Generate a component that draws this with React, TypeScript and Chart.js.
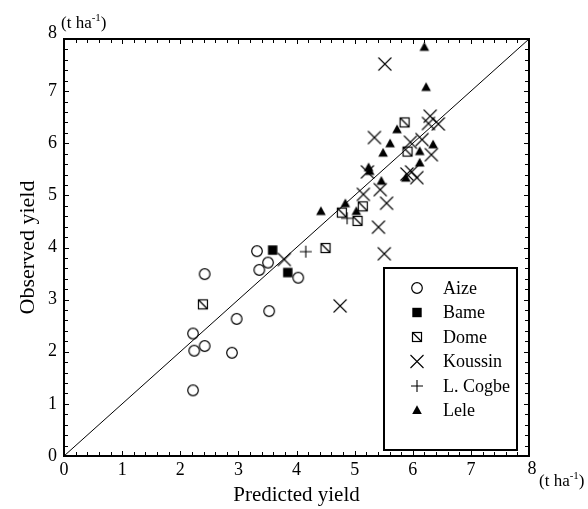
import React, { useEffect, useRef } from "react";
import { Chart, registerables } from "chart.js";

Chart.register(...registerables);

// ---------- data ----------
const seriesNames = ["Aize", "Bame", "Dome", "Koussin", "L. Cogbe", "Lele"];
const seriesKinds = ["circle", "square", "dome", "x", "plus", "triangle"];

const aizePred = [2.22, 2.24, 2.42, 2.22, 2.42, 2.89, 2.97, 3.53, 3.32, 3.36, 3.51, 4.03];
const aizeObs = [2.35, 2.02, 2.11, 1.26, 3.49, 1.98, 2.63, 2.78, 3.93, 3.57, 3.71, 3.42];

const bamePred = [3.59, 3.85];
const bameObs = [3.95, 3.52];

const domePred = [2.39, 4.5, 4.78, 5.05, 5.14, 5.86, 5.91];
const domeObs = [2.91, 3.99, 4.67, 4.51, 4.79, 6.4, 5.84];

const koussinPred = [3.79, 4.75, 5.41, 5.51, 5.55, 5.52, 5.15, 5.44, 5.22, 5.34, 5.9, 5.98, 6.07, 5.96, 6.16, 6.32, 6.27, 6.3, 6.44];
const koussinObs = [3.77, 2.88, 4.39, 3.88, 4.85, 7.52, 5.02, 5.11, 5.45, 6.11, 5.41, 5.45, 5.34, 6.02, 6.07, 5.78, 6.38, 6.52, 6.37];

const cogbePred = [4.16, 4.87];
const cogbeObs = [3.92, 4.56];

const lelePred = [4.42, 4.84, 5.03, 5.46, 5.24, 5.26, 5.49, 5.61, 5.73, 5.88, 6.12, 6.12, 6.35, 6.2, 6.23];
const leleObs = [4.69, 4.84, 4.69, 5.27, 5.53, 5.46, 5.81, 5.99, 6.26, 5.33, 5.84, 5.62, 5.97, 7.84, 7.07];

const identityLine = [0, 8];
const axisMin = 0;
const axisMax = 8;
const minorStep = 0.2;

const xTitle = "Predicted yield";
const yTitle = "Observed yield";
const unitText = "(t ha";
const unitSup = "-1";

const FAMILY = "'Liberation Serif'";

// ---------- symbols ----------
function drawSymbol(g: CanvasRenderingContext2D, kind: string, cx: number, cy: number) {
  g.save();
  g.strokeStyle = "#000";
  g.fillStyle = "#000";
  g.lineWidth = 1.2;
  if (kind === "circle") {
    g.beginPath();
    g.arc(cx, cy, 5.3, 0, Math.PI * 2);
    g.stroke();
  } else if (kind === "square") {
    g.fillRect(cx - 4.7, cy - 4.7, 9.4, 9.4);
  } else if (kind === "dome") {
    g.strokeRect(cx - 4.5, cy - 4.5, 9, 9);
    g.beginPath();
    g.moveTo(cx - 4.5, cy - 4.5);
    g.lineTo(cx + 4.5, cy + 4.5);
    g.stroke();
  } else if (kind === "x") {
    g.lineWidth = 1.1;
    g.beginPath();
    g.moveTo(cx - 6.5, cy - 6.5);
    g.lineTo(cx + 6.5, cy + 6.5);
    g.moveTo(cx + 6.5, cy - 6.5);
    g.lineTo(cx - 6.5, cy + 6.5);
    g.stroke();
  } else if (kind === "plus") {
    g.lineWidth = 1.1;
    g.beginPath();
    g.moveTo(cx - 6, cy);
    g.lineTo(cx + 6, cy);
    g.moveTo(cx, cy - 6);
    g.lineTo(cx, cy + 6);
    g.stroke();
  } else if (kind === "triangle") {
    g.beginPath();
    g.moveTo(cx, cy - 5.3);
    g.lineTo(cx + 4.8, cy + 3.4);
    g.lineTo(cx - 4.8, cy + 3.4);
    g.closePath();
    g.fill();
  }
  g.restore();
}

function makeSymbolCanvas(kind: string): HTMLCanvasElement {
  const c = document.createElement("canvas");
  c.width = 20;
  c.height = 20;
  const g = c.getContext("2d")!;
  drawSymbol(g, kind, 10, 10);
  return c;
}

function zipPoints(xs: number[], ys: number[]) {
  return xs.map((x, i) => ({ x, y: ys[i] }));
}

// ---------- decorations plugin ----------
const decorPlugin = {
  id: "decor",
  afterDraw(chart: any) {
    const { ctx, chartArea: a, scales } = chart;
    const xs = scales.x;
    const ys = scales.y;
    ctx.save();
    ctx.strokeStyle = "#000";
    ctx.fillStyle = "#000";

    // inward ticks on all four sides
    ctx.lineWidth = 1;
    const n = Math.round((axisMax - axisMin) / minorStep);
    ctx.beginPath();
    for (let i = 0; i <= n; i++) {
      const v = axisMin + i * minorStep;
      const len = i % 5 === 0 ? 5 : 4;
      const px = Math.round(xs.getPixelForValue(v)) + 0.5;
      ctx.moveTo(px, a.bottom);
      ctx.lineTo(px, a.bottom - len);
      ctx.moveTo(px, a.top);
      ctx.lineTo(px, a.top + len);
      const py = Math.round(ys.getPixelForValue(v)) + 0.5;
      ctx.moveTo(a.left, py);
      ctx.lineTo(a.left + len, py);
      ctx.moveTo(a.right, py);
      ctx.lineTo(a.right - len, py);
    }
    ctx.stroke();

    // frame
    ctx.lineWidth = 2;
    ctx.strokeRect(a.left, a.top, a.right - a.left, a.bottom - a.top);

    // end labels "8" (slightly offset from the corner in the original)
    ctx.font = `18px ${FAMILY}`;
    ctx.textBaseline = "middle";
    ctx.textAlign = "right";
    ctx.fillText(String(axisMax), a.left - 7, ys.getPixelForValue(axisMax) - 6);
    ctx.textAlign = "center";
    ctx.fillText(String(axisMax), xs.getPixelForValue(axisMax) + 3, 469);

    // legend box
    const lx = 384, ly = 268, lw = 133, lh = 182;
    ctx.fillStyle = "#fff";
    ctx.fillRect(lx, ly, lw, lh);
    ctx.fillStyle = "#000";
    ctx.lineWidth = 2;
    ctx.strokeRect(lx, ly, lw, lh);
    ctx.font = `18px ${FAMILY}`;
    ctx.textBaseline = "middle";
    ctx.textAlign = "left";
    seriesNames.forEach((name, i) => {
      const yy = 288 + i * 24.5;
      drawSymbol(ctx, seriesKinds[i], 417, yy);
      ctx.fillText(name, 443, yy + 1);
    });

    // axis titles
    ctx.textAlign = "center";
    ctx.textBaseline = "middle";
    ctx.font = `21px ${FAMILY}`;
    ctx.fillText(xTitle, (a.left + a.right) / 2, 495);
    ctx.save();
    ctx.font = `22px ${FAMILY}`;
    ctx.translate(28, (a.top + a.bottom) / 2);
    ctx.rotate(-Math.PI / 2);
    ctx.fillText(yTitle, 0, 0);
    ctx.restore();

    // unit labels
    const drawUnit = (x0: number, yb: number) => {
      ctx.textAlign = "left";
      ctx.textBaseline = "alphabetic";
      ctx.font = `17px ${FAMILY}`;
      ctx.fillText(unitText, x0, yb);
      let x = x0 + ctx.measureText(unitText).width;
      ctx.font = `11px ${FAMILY}`;
      ctx.fillText(unitSup, x, yb - 7);
      x += ctx.measureText(unitSup).width;
      ctx.font = `17px ${FAMILY}`;
      ctx.fillText(")", x, yb);
    };
    drawUnit(61, 28);
    drawUnit(539, 486);

    ctx.restore();
  },
};

export default function App() {
  const ref = useRef<HTMLCanvasElement | null>(null);

  useEffect(() => {
    if (!ref.current) return;
    const sets = [
      [aizePred, aizeObs],
      [bamePred, bameObs],
      [domePred, domeObs],
      [koussinPred, koussinObs],
      [cogbePred, cogbeObs],
      [lelePred, leleObs],
    ];
    const datasets: any[] = sets.map(([xs, ys], i) => ({
      type: "scatter",
      label: seriesNames[i],
      data: zipPoints(xs, ys),
      pointStyle: makeSymbolCanvas(seriesKinds[i]),
      pointRadius: 7,
      pointHoverRadius: 7,
      borderColor: "#000",
      backgroundColor: "#000",
    }));
    datasets.push({
      type: "line",
      label: "1:1",
      data: zipPoints(identityLine, identityLine),
      borderColor: "#000",
      borderWidth: 1,
      pointRadius: 0,
      fill: false,
    });

    const tickFont = { family: FAMILY, size: 18 };
    const hideEnd = (v: any) => (Number(v) === axisMax ? "" : String(v));
    const chart = new Chart(ref.current, {
      type: "scatter",
      data: { datasets },
      options: {
        animation: false,
        responsive: false,
        events: [],
        layout: { padding: { top: 39, right: 59, left: 0, bottom: 0 } },
        plugins: { legend: { display: false }, tooltip: { enabled: false } },
        scales: {
          x: {
            type: "linear",
            min: axisMin,
            max: axisMax,
            ticks: { stepSize: 1, font: tickFont, color: "#000", padding: 3, maxRotation: 0, callback: hideEnd },
            grid: { display: false, drawTicks: false },
            border: { display: false },
            afterFit: (s: any) => {
              s.height = 53;
            },
          },
          y: {
            type: "linear",
            min: axisMin,
            max: axisMax,
            ticks: { stepSize: 1, font: tickFont, color: "#000", padding: 7, callback: hideEnd },
            grid: { display: false, drawTicks: false },
            border: { display: false },
            afterFit: (s: any) => {
              s.width = 64;
            },
          },
        },
      } as any,
      plugins: [decorPlugin],
    });
    let alive = true;
    if ((document as any).fonts && (document as any).fonts.load) {
      Promise.all([
        (document as any).fonts.load(`18px ${FAMILY}`),
        (document as any).fonts.load(`22px ${FAMILY}`),
      ])
        .then(() => {
          if (alive) chart.update();
        })
        .catch(() => {});
    }
    return () => {
      alive = false;
      chart.destroy();
    };
  }, []);

  return (
    <div style={{ position: "fixed", left: 0, top: 0, width: 588, height: 509, background: "#fff" }}>
      <canvas ref={ref} width={588} height={509} style={{ display: "block" }} />
    </div>
  );
}
